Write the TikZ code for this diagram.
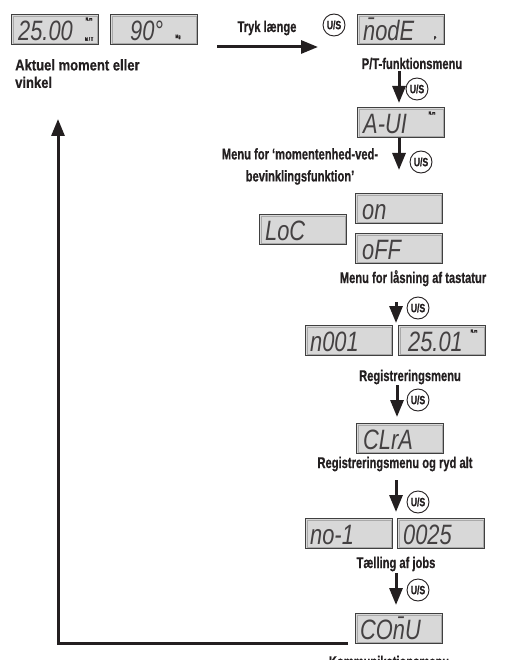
\documentclass[tikz,border=0pt]{standalone}
\usepackage{fontspec}
\setmainfont{Liberation Sans}
\newfontfamily\lblfont[FakeStretch=0.72,FakeBold=0.6]{Liberation Sans}
\newfontfamily\aktfont[FakeStretch=0.84,FakeBold=0.6]{Liberation Sans}
\newfontfamily\lcdfont[FakeStretch=0.78]{Liberation Sans}
\usetikzlibrary{arrows.meta}
\definecolor{lcdfill}{HTML}{D8D8D8}
\definecolor{lcdedge}{HTML}{404040}
\definecolor{ink}{HTML}{231F20}
\begin{document}
\begin{tikzpicture}[x=1pt,y=-1pt,
  lcd/.style={draw=lcdedge, line width=1pt, fill=lcdfill, minimum width=87pt, minimum height=30pt, inner sep=0pt, anchor=north west,
    path picture={\draw[lcdedge!45, line width=0.6pt] ([shift={(1.6pt,-1.6pt)}]path picture bounding box.north west) rectangle ([shift={(-1.6pt,1.6pt)}]path picture bounding box.south east);}},
  lcdtxt/.style={font=\lcdfont\itshape\fontsize{28}{28}\selectfont, text=ink!85, inner sep=0pt, anchor=base west},
  unit/.style={font=\lblfont\bfseries\fontsize{5}{5}\selectfont, inner sep=0pt, text=ink},
  lbl/.style={font=\lblfont\bfseries\fontsize{15.5}{17.5}\selectfont, inner sep=0pt, text=ink, anchor=base},
  us/.style={circle, draw=ink, line width=0.9pt, minimum size=22pt, inner sep=0pt, font=\lblfont\bfseries\fontsize{12}{12}\selectfont, text=ink},
  flow/.style={draw=ink, line width=3pt, -{Triangle[width=13pt,length=17pt]}}
]
\useasboundingbox (0,0) rectangle (505,660);

% displays
\node[lcd] (d2500) at (11,14) {};
\node[lcdtxt] (t2500) at ([shift={(7pt,4.5pt)}]d2500.south west) {25.00};
\node[unit] (u2500a) at (89,19) {N.m};
\node[unit] (u2500b) at (89,39) {M / T};
\node[lcd] (d90) at (110,14) {};
\node[lcdtxt] (t90) at ([shift={(20pt,4.5pt)}]d90.south west) {90°};
\node[unit] (u90) at (178,37) {Mg};

\node[lcd] (mode) at (357,14) {};
\node[lcdtxt] (tmode) at ([shift={(6pt,4.5pt)}]mode.south west) {{\=n}odE};
\node[unit] (umode) at (435,38) {P};

\node[lcd] (aui) at (357,107) {};
\node[lcdtxt] (taui) at ([shift={(6pt,4.5pt)}]aui.south west) {A-UI};
\node[unit] (uaui) at (432,113) {N.m};

\node[lcd] (on) at (355,193) {};
\node[lcdtxt] (ton) at ([shift={(7pt,4.5pt)}]on.south west) {on};
\node[lcd] (loc) at (259,214) {};
\node[lcdtxt] (tloc) at ([shift={(6pt,4.5pt)}]loc.south west) {LoC};
\node[lcd] (off) at (355,233) {};
\node[lcdtxt] (toff) at ([shift={(7pt,4.5pt)}]off.south west) {oFF};

\node[lcd] (n001) at (305,325) {};
\node[lcdtxt] (tn001) at ([shift={(5pt,4.5pt)}]n001.south west) {n001};
\node[lcd] (d2501) at (398,325) {};
\node[lcdtxt] (t2501) at ([shift={(10pt,4.5pt)}]d2501.south west) {25.01};
\node[unit] (u2501) at (474,331) {N.m};

\node[lcd] (clra) at (356,423) {};
\node[lcdtxt] (tclra) at ([shift={(7pt,4.5pt)}]clra.south west) {CLrA};

\node[lcd] (no1) at (305,518) {};
\node[lcdtxt] (tno1) at ([shift={(5pt,4.5pt)}]no1.south west) {no-1};
\node[lcd] (d0025) at (397,518) {};
\node[lcdtxt] (t0025) at ([shift={(6pt,4.5pt)}]d0025.south west) {0025};

\node[lcd] (comu) at (355,613) {};
\node[lcdtxt] (tcomu) at ([shift={(5pt,4.5pt)}]comu.south west) {CO{\=n}U};

% labels
\node[lbl, anchor=north west, align=left, font=\aktfont\bfseries\fontsize{15.5}{17.5}\selectfont] (aktuel) at (15,59) {Aktuel moment eller\\vinkel};
\node[lbl] (tryk) at (267,32) {Tryk længe};
\node[lbl] (ptlbl) at (412,69) {P/T-funktionsmenu};
\node[lbl, anchor=north, align=center, font=\lblfont\bfseries\fontsize{15.5}{22}\selectfont] (momlbl) at (300,148) {Menu for ‘momentenhed-ved-\\bevinklingsfunktion’};
\node[lbl] (loclbl) at (413,283) {Menu for låsning af tastatur};
\node[lbl] (reglbl) at (410,381) {Registreringsmenu};
\node[lbl] (clrlbl) at (395,468) {Registreringsmenu og ryd alt};
\node[lbl] (joblbl) at (396,568) {Tælling af jobs};
\node[lbl] (komlbl) at (389,667) {Kommunikationsmenu};

% U/S buttons
\node[us] (us1) at (334,25) {U/S};
\node[us] (us2) at (417,89) {U/S};
\node[us] (us3) at (421,162) {U/S};
\node[us] (us4) at (418,308) {U/S};
\node[us] (us5) at (418,400) {U/S};
\node[us] (us6) at (418,502) {U/S};
\node[us] (us7) at (418,590) {U/S};

% connectors
\coordinate (h1) at (217,47);
\coordinate (h2) at (318,47);
\draw[flow] (h1) -- (h2);

\coordinate (a2s) at (399,71);
\draw[flow, shorten >=4pt] (a2s) -- (aui.north -| a2s);

\coordinate (a3e) at (399,170);
\draw[flow] (aui.south -| a3e) -- (a3e);

\coordinate (a4s) at (396,302);
\coordinate (a4e) at (396,323);
\draw[flow] (a4s) -- (a4e);

\coordinate (a5s) at (397,385);
\draw[flow, shorten >=6pt] (a5s) -- (clra.north -| a5s);

\coordinate (a6s) at (396,480);
\coordinate (a6e) at (396,512);
\draw[flow] (a6s) -- (a6e);

\coordinate (a7s) at (396,573);
\draw[flow, shorten >=8pt] (a7s) -- (comu.north -| a7s);

\coordinate (rtop) at (58,119);
\draw[flow] ([xshift=-7pt,yshift=1pt]comu.south west) -| (rtop);
\end{tikzpicture}
\end{document}
